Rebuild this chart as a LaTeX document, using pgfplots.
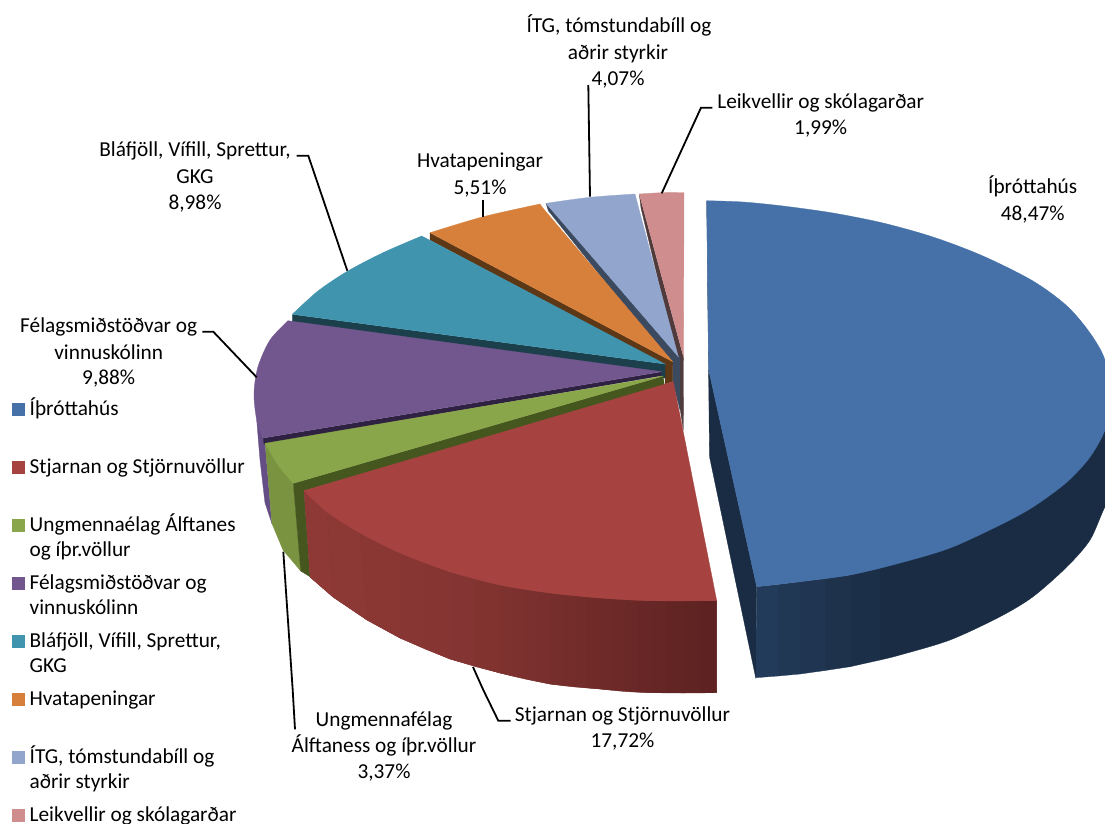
\documentclass[border=0pt]{standalone}
\usepackage{pgfplots}
\pgfplotsset{compat=1.18}
\usepackage{fontspec}
\setmainfont{Carlito}
\definecolor{cBlue}{HTML}{4571A8}
\definecolor{cRed}{HTML}{A64340}
\definecolor{cGreen}{HTML}{8AA64A}
\definecolor{cPurple}{HTML}{72578F}
\definecolor{cTeal}{HTML}{4094AE}
\definecolor{cOrange}{HTML}{D7803B}
\definecolor{cLight}{HTML}{92A6CD}
\definecolor{cPink}{HTML}{CF8E8D}
\definecolor{dBlue}{HTML}{1A2C43}
\definecolor{dBlueL}{HTML}{233B5A}
\definecolor{dRedL}{HTML}{8E3936}
\definecolor{dRedR}{HTML}{5A2120}
\definecolor{dGreen}{HTML}{45561F}
\definecolor{oGreen}{HTML}{7A9341}
\definecolor{dPurple}{HTML}{2F2141}
\definecolor{oPurple}{HTML}{654D85}
\definecolor{dTeal}{HTML}{1B3F4B}
\definecolor{dOrange}{HTML}{5D3817}
\definecolor{dLight}{HTML}{3C4A60}
\definecolor{dPink}{HTML}{4F3A3C}
\newcommand\lf{\fontsize{21.3}{25.5}\selectfont}
\newcommand\lab[3]{\node[anchor=base,inner sep=0pt,font=\lf] at (axis cs:#1,#2) {#3};}
\newcommand\leg[1]{\parbox[t]{228pt}{\lf #1}}
\pgfplotsset{
  area/.style={fill=#1,draw=#1,line width=0.3pt,forget plot},
  top/.style={fill=#1,draw=#1,line width=0.3pt,smooth},
  leader/.style={black,line width=1.8pt,forget plot}
}
\newcommand\rstrip[9]{\addplot[area=dRedL!#1!dRedR] coordinates {(#2,#3)(#4,#5)(#6,#7)(#8,#9)};}
\newcommand\bstrip[9]{\addplot[area=dBlueL!#1!dBlue] coordinates {(#2,#3)(#4,#5)(#6,#7)(#8,#9)};}
\begin{document}
\begin{tikzpicture}[x=1pt,y=1pt]
\path[use as bounding box] (0,0) rectangle (1105,823);
\begin{axis}[
  at={(0,0)},anchor=south west,
  scale only axis,width=1105pt,height=823pt,
  xmin=0,xmax=1105,ymin=0,ymax=823,y dir=reverse,
  hide axis,
  legend cell align=left,
  legend style={at={(axis cs:12,400)},anchor=north west,draw=none,fill=none,
    inner sep=0pt,outer sep=0pt,row sep=0pt,
    nodes={inner sep=0pt,outer sep=0pt,text height=15pt,text depth=43pt}},
  legend image code/.code={\fill[#1] (0pt,13.5pt) rectangle (12pt,25.5pt);\path[draw=none,fill=none] (0pt,14pt) -- (17.5pt,14pt);},
]
% --- walls, back to front
\addplot[area=dBlue] coordinates {(706.7,201)(709.5,456.7)(755.7,677.7)(756.7,586.7)(708.7,370)};
\bstrip{100}{756.7}{586.7}{778}{584.5}{778}{676}{755.7}{677.7}
\bstrip{80}{778}{584.5}{800}{581.7}{800}{674}{778}{676}
\bstrip{60}{800}{581.7}{825}{578.5}{825}{670.5}{800}{674}
\bstrip{40}{825}{578.5}{850}{575}{850}{666.7}{825}{670.5}
\bstrip{20}{850}{575}{880}{568}{880}{660}{850}{666.7}
\addplot[area=dBlue,smooth] coordinates {(880,660)(900,655)(950,640)(1000,616.7)(1033,596.7)(1067,566.7)(1090,540)(1105,506.7)(1125,470)} -- (axis cs:1125,400) -- (axis cs:880,568) -- cycle;
\addplot[area=dPink] coordinates {(639.3,194)(641,208)(680,372)(680,408)(683.3,430)(683.5,357)};
\addplot[area=dLight] coordinates {(546,203.3)(548.3,210.7)(672.7,366)(672.7,382)(680,410)(680,356.7)};
\addplot[area=dOrange] coordinates {(430,232.7)(430,240)(665,365)(665,384)(672.7,381.5)(672.7,361.7)};
\addplot[area=dTeal] coordinates {(292.3,314.3)(292.3,322)(660,372)(660,378)(665,378)(665,364)};
\addplot[area=oPurple] coordinates {(256.7,420)(260,460)(265,503)(271.7,523)(265,443.3)(263.3,438)};
\addplot[area=dPurple] coordinates {(263.3,438)(264,444)(660,376)(661.7,371.7)};
\addplot[area=oGreen] coordinates {(265,443.3)(293.3,483.3)(300.7,571)(283,550)(271.7,523)};
\addplot[area=dGreen] coordinates {(663.3,376)(293.3,483.3)(300.7,571)(310,576.7)(304,490.7)(674,384)(664.3,384)};
% red outer wall: a base shape, then strips for the gradient
\addplot[area=dRedL!60!dRedR] coordinates {(304,490.7)(327,512)(360,533)(400,553)(450,572)(500,585)(550,593)(600,598)(650,600.7)(716.7,600.7)(716.7,692.7)(650,692.7)(600,689)(550,684)(500,673)(450,659)(400,638)(367,620)(333,597)(310,577)};
\rstrip{100}{304}{490.7}{327}{512}{333}{597}{310}{577}
\rstrip{96}{327}{512}{360}{533}{367}{620}{333}{597}
\rstrip{92}{360}{533}{400}{553}{400}{638}{367}{620}
\rstrip{88}{400}{553}{425}{563}{425}{649}{400}{638}
\rstrip{84}{425}{563}{450}{572}{450}{659}{425}{649}
\rstrip{80}{450}{572}{475}{579}{475}{666.5}{450}{659}
\rstrip{75}{475}{579}{500}{585}{500}{673}{475}{666.5}
\rstrip{70}{500}{585}{512}{587.3}{512}{676}{500}{673}
\rstrip{66}{512}{587.3}{525}{589.5}{525}{679}{512}{676}
\rstrip{62}{525}{589.5}{537}{591.3}{537}{681.5}{525}{679}
\rstrip{58}{537}{591.3}{550}{593}{550}{684}{537}{681.5}
\rstrip{54}{550}{593}{562}{594.6}{562}{685.6}{550}{684}
\rstrip{50}{562}{594.6}{575}{596}{575}{687}{562}{685.6}
\rstrip{46}{575}{596}{587}{597}{587}{688}{575}{687}
\rstrip{42}{587}{597}{600}{598}{600}{689}{587}{688}
\rstrip{38}{600}{598}{612}{599.1}{612}{690.3}{600}{689}
\rstrip{34}{612}{599.1}{625}{600}{625}{691.5}{612}{690.3}
\rstrip{30}{625}{600}{637}{600.4}{637}{692.2}{625}{691.5}
\rstrip{26}{637}{600.4}{650}{600.7}{650}{692.7}{637}{692.2}
\rstrip{21}{650}{600.7}{666}{600.9}{666}{692.9}{650}{692.7}
\rstrip{16}{666}{600.9}{683}{601}{683}{693}{666}{692.9}
\rstrip{11}{683}{601}{700}{600.9}{700}{692.9}{683}{693}
\rstrip{6}{700}{600.9}{716.7}{600.7}{716.7}{692.7}{700}{692.9}
% --- top faces in legend order: a smooth rim, then straight edges to the apex
\addplot[top=cBlue] coordinates {(706.7,200.7)(743,202)(783,206)(833,213)(883,223)(933,237)(983,256)(1033,281)(1067,306)(1090,333)(1105,360)(1112,400)(1105,430)(1090,457)(1067,482)(1033,507)(1000,525)(950,548)(900,563)(850,575)(800,581.7)(756.7,586.7)} -- (axis cs:708.7,370) -- cycle;
\addlegendentry{\leg{Íþróttahús}}
\addplot[top=cRed] coordinates {(716.7,600.7)(650,600.7)(600,598)(550,593)(500,585)(450,571.7)(400,553)(360,533)(326.7,511.7)(304,490.7)} -- (axis cs:673.3,381.7) -- cycle;
\addlegendentry{\leg{Stjarnan og Stjörnuvöllur}}
\addplot[top=cGreen] coordinates {(265,443.3)(278,465)(293.3,483.3)} -- (axis cs:663.3,376) -- cycle;
\addlegendentry{\leg{Ungmennaélag Álftanes\\og íþr.völlur}}
\addplot[top=cPurple] coordinates {(288,320.7)(270,340)(258,366.7)(254,393)(256.7,420)(263.3,438)} -- (axis cs:661.7,371.7) -- cycle;
\addlegendentry{\leg{Félagsmiðstöðvar og\\vinnuskólinn}}
\addplot[top=cTeal] coordinates {(292.3,314.3)(318,291)(347,271.5)(383,252.7)(421.7,236)} -- (axis cs:665,364) -- cycle;
\addlegendentry{\leg{Bláfjöll, Vífill, Sprettur,\\GKG}}
\addplot[top=cOrange] coordinates {(430,232.7)(483.3,216.7)(540,204)} -- (axis cs:542,207) -- (axis cs:672.7,361.7) -- cycle;
\addlegendentry{\leg{Hvatapeningar}}
\addplot[top=cLight] coordinates {(546,203.3)(590,197.3)(635,194)} -- (axis cs:639,209.3) -- (axis cs:678.3,356.7) -- cycle;
\addlegendentry{\leg{ÍTG, tómstundabíll og\\aðrir styrkir}}
\addplot[top=cPink] coordinates {(639.3,194)(661.7,192.7)(684,192.7)} -- (axis cs:683.5,356.7) -- cycle;
\addlegendentry{\leg{Leikvellir og skólagarðar}}
% --- leader lines
\addplot[leader] coordinates {(296.7,155.7)(308.3,155.7)(347.3,270.7)};
\addplot[leader] coordinates {(202.3,331.7)(213.3,331.7)(256.7,377.3)};
\addplot[leader] coordinates {(482.7,200)(482.7,216.7)};
\addplot[leader] coordinates {(588.3,85)(590,196.7)};
\addplot[leader] coordinates {(712.3,107.7)(701,107.7)(661.7,193.3)};
\addplot[leader] coordinates {(283.3,551.7)(292.7,690)(295,729.3)};
\addplot[leader] coordinates {(473,667)(483.3,690)(498.3,720.7)(510.7,720.7)};
% --- data labels
\lab{1032.7}{193}{Íþróttahús}
\lab{1032.7}{220}{48,47\%}
\lab{820.7}{108}{Leikvellir og skólagarðar}
\lab{820.7}{134}{1,99\%}
\lab{619}{32}{ÍTG, tómstundabíll og}
\lab{618}{59}{aðrir styrkir}
\lab{618}{85}{4,07\%}
\lab{480}{167}{Hvatapeningar}
\lab{480}{194}{5,51\%}
\lab{195}{156}{Bláfjöll, Vífill, Sprettur,}
\lab{195}{183}{GKG}
\lab{195}{209}{8,98\%}
\lab{108.7}{332}{Félagsmiðstöðvar og}
\lab{108.7}{359}{vinnuskólinn}
\lab{108.7}{384}{9,88\%}
\lab{622.5}{721}{Stjarnan og Stjörnuvöllur}
\lab{622.5}{747}{17,72\%}
\lab{384}{726}{Ungmennafélag}
\lab{384}{752}{Álftaness og íþr.völlur}
\lab{384}{778}{3,37\%}
\end{axis}
\end{tikzpicture}
\end{document}
